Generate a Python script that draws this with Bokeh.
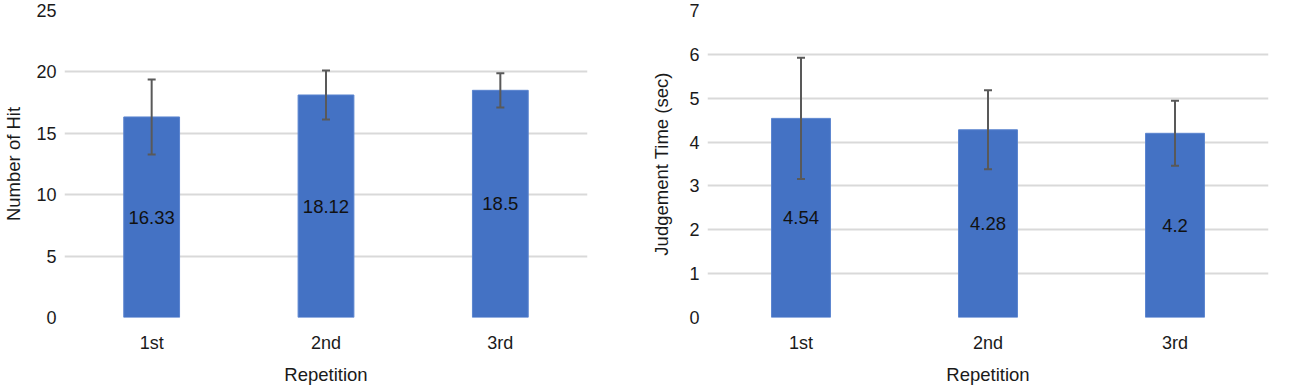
from bokeh.plotting import figure
from bokeh.models import ColumnDataSource, Range1d, FactorRange, FixedTicker, Whisker, TeeHead
from bokeh.layouts import row
from bokeh.core.properties import value
from bokeh.embed import file_html
from bokeh.resources import INLINE

categories = ["1st", "2nd", "3rd"]
hits_mean = [16.33, 18.12, 18.5]
hits_err = [3.05, 2.0, 1.4]
time_mean = [4.54, 4.28, 4.2]
time_err = [1.38, 0.9, 0.74]
hits_labels = ["16.33", "18.12", "18.5"]
time_labels = ["4.54", "4.28", "4.2"]

FONT = "Liberation Sans"
BAR = "#4472C4"
ERR = "#595959"
GRID = "#D9D9D9"
H = 387


def make(means, errs, labels, ymax, step, ylabel, width, bl, br, title_standoff, bar_w):
    src = ColumnDataSource(dict(
        x=categories, top=means,
        upper=[m + e for m, e in zip(means, errs)],
        lower=[m - e for m, e in zip(means, errs)],
        ly=[m / 2 for m in means], lab=labels,
    ))
    p = figure(x_range=FactorRange(*categories, range_padding=0), y_range=Range1d(0, ymax),
               width=width, height=H, output_backend="svg", toolbar_location=None,
               min_border_left=bl, min_border_right=br, min_border_top=10, min_border_bottom=60)
    p.outline_line_color = None
    p.background_fill_color = "white"
    p.border_fill_color = "white"
    p.vbar(x="x", top="top", width=bar_w, source=src, fill_color=BAR, line_color="#5A84CF", line_width=1)
    w = Whisker(base="x", upper="upper", lower="lower", source=src,
                line_color=ERR, line_width=2, level="annotation",
                upper_head=TeeHead(size=8, line_color=ERR, line_width=2),
                lower_head=TeeHead(size=8, line_color=ERR, line_width=2))
    p.add_layout(w)
    p.text(x="x", y="ly", text="lab", source=src, text_align="center", text_baseline="middle",
           text_font=value(FONT), text_font_size="18.5px", text_color="#111111")
    p.yaxis.ticker = FixedTicker(ticks=list(range(0, ymax + 1, step)))
    for ax in (p.xaxis, p.yaxis):
        ax.axis_line_color = None
        ax.major_tick_line_color = None
        ax.minor_tick_line_color = None
        ax.major_tick_out = 0
        ax.major_tick_in = 0
        ax.minor_tick_out = 0
        ax.minor_tick_in = 0
        ax.major_label_text_font = FONT
        ax.major_label_text_font_size = "18px"
        ax.major_label_text_color = "#1a1a1a"
        ax.axis_label_text_font = FONT
        ax.axis_label_text_font_size = "18.5px"
        ax.axis_label_text_font_style = "normal"
        ax.axis_label_text_color = "#1a1a1a"
    p.yaxis.axis_label = ylabel
    p.xaxis.axis_label = "Repetition"
    p.yaxis.major_label_standoff = 8
    p.yaxis.axis_label_standoff = title_standoff
    p.xaxis.major_label_standoff = 15
    p.xaxis.axis_label_standoff = 8
    p.xgrid.grid_line_color = None
    p.ygrid.grid_line_color = GRID
    p.ygrid.grid_line_width = 2
    return p


p1 = make(hits_mean, hits_err, hits_labels, 25, 5, "Number of Hit", 620, 63, 33, 9, 0.32)
p2 = make(time_mean, time_err, time_labels, 7, 1, "Judgement Time (sec)", 675, 87, 27, 14, 0.315)

layout = row(p1, p2)
open("out.html", "w").write(file_html(layout, INLINE))
